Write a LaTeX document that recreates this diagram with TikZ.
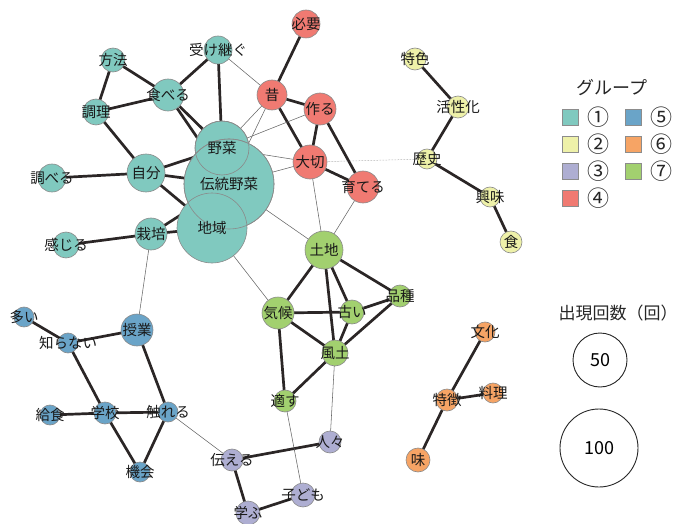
\documentclass[tikz,border=0pt]{standalone}
\usepackage{fontspec}
\setmainfont{Noto Sans CJK JP}
\usetikzlibrary{backgrounds}
\definecolor{cTeal}{HTML}{80C9BF}
\definecolor{cYel}{HTML}{EEF1A9}
\definecolor{cLav}{HTML}{AEAED2}
\definecolor{cRed}{HTML}{F07A72}
\definecolor{cBlue}{HTML}{6AA4C8}
\definecolor{cOra}{HTML}{F6A465}
\definecolor{cGrn}{HTML}{A2D06F}
\definecolor{cEdge}{HTML}{2B2626}
\definecolor{cBord}{HTML}{8A8A8A}
\begin{document}
\begin{tikzpicture}[x=1pt,y=-1pt,
  vtx/.style={circle,inner sep=0pt,minimum size=#1,draw=cBord,line width=0.6pt},
  ring/.style={circle,inner sep=0pt,minimum size=#1,draw=cBord,line width=0.6pt},
  lbl/.style={inner sep=0pt,font=\fontsize{14.5}{15}\selectfont,text=black!90},
  thk/.style={draw=cEdge,line width=2.7pt},
  thn/.style={draw=black!60,line width=0.55pt},
  dotl/.style={draw=black!45,line width=0.5pt,densely dotted},
  sq/.style={draw=black!45,line width=0.6pt,minimum size=16pt,inner sep=0pt},
  legtxt/.style={inner sep=0pt,font=\fontsize{22}{23}\selectfont,text=black!85},
  sizec/.style={circle,draw=black!85,line width=0.9pt,inner sep=0pt,minimum size=#1,font=\fontsize{18}{19}\selectfont}
]
\useasboundingbox (0,0) rectangle (696,524);

% ---- nodes ----
\node[vtx=28pt,fill=cRed]  (hitsuyo)  at (306,24) {};
\node[vtx=28pt,fill=cTeal] (uketsugu) at (218,50) {};
\node[vtx=24pt,fill=cTeal] (hoho)     at (113,60) {};
\node[vtx=32pt,fill=cTeal] (taberu)   at (168,95) {};
\node[vtx=26pt,fill=cTeal] (chori)    at (96,112) {};
\node[vtx=30pt,fill=cRed]  (mukashi)  at (272,95) {};
\node[vtx=32pt,fill=cRed]  (tsukuru)  at (320,109) {};
\node[vtx=38pt,fill=cTeal] (jibun)    at (146,173) {};
\node[vtx=28pt,fill=cTeal] (shiraberu) at (52,178) {};
\node[vtx=34pt,fill=cRed]  (taisetsu) at (310,162) {};
\node[vtx=32pt,fill=cRed]  (sodateru) at (363,187) {};
\node[vtx=32pt,fill=cTeal] (saibai)   at (151,234) {};
\node[vtx=26pt,fill=cTeal] (kanjiru)  at (66,245) {};
\node[vtx=38pt,fill=cGrn]  (tochi)    at (324,250) {};
\node[vtx=22pt,fill=cGrn]  (hinshu)   at (400,296) {};
\node[vtx=24pt,fill=cGrn]  (furui)    at (352,312) {};
\node[vtx=32pt,fill=cGrn]  (kiko)     at (278,313) {};
\node[vtx=26pt,fill=cGrn]  (fudo)     at (335,353) {};
\node[vtx=22pt,fill=cGrn]  (tekisu)   at (285,401) {};
\node[vtx=22pt,fill=cYel]  (tokushoku) at (415,59) {};
\node[vtx=22pt,fill=cYel]  (kasseika) at (458,107) {};
\node[vtx=20pt,fill=cYel]  (rekishi)  at (427,159) {};
\node[vtx=20pt,fill=cYel]  (kyomi)    at (490,197) {};
\node[vtx=22pt,fill=cYel]  (shoku)    at (511,242) {};
\node[vtx=20pt,fill=cBlue] (oi)       at (24,317) {};
\node[vtx=20pt,fill=cBlue] (shiranai) at (68,343) {};
\node[vtx=32pt,fill=cBlue] (jugyo)    at (137,330) {};
\node[vtx=20pt,fill=cBlue] (kyushoku) at (50,415) {};
\node[vtx=22pt,fill=cBlue] (gakko)    at (105,413) {};
\node[vtx=20pt,fill=cBlue] (fureru)   at (168,412) {};
\node[vtx=20pt,fill=cBlue] (kikai)    at (140,472) {};
\node[vtx=22pt,fill=cLav]  (tsutaeru) at (232,460) {};
\node[vtx=22pt,fill=cLav]  (hitobito) at (330,442) {};
\node[vtx=24pt,fill=cLav]  (kodomo)   at (303,495) {};
\node[vtx=24pt,fill=cLav]  (manabu)   at (248,513) {};
\node[vtx=20pt,fill=cOra]  (bunka)    at (485,332) {};
\node[vtx=20pt,fill=cOra]  (ryori)    at (493,393) {};
\node[vtx=22pt,fill=cOra]  (tokucho)  at (447,400) {};
\node[vtx=24pt,fill=cOra]  (aji)      at (418,460) {};
% big overlapping circles
\node[vtx=54pt,fill=cTeal] (yasai)  at (222,148) {};
\node[vtx=90pt,fill=cTeal] (dento)  at (229,184) {};
\node[vtx=70pt,fill=cTeal] (chiiki) at (212,228) {};
\node[ring=54pt] (yasaiR)  at (yasai) {};
\node[ring=90pt] (dentoR)  at (dento) {};

% ---- edges ----
\begin{scope}[on background layer]
\foreach \a/\b in {hitsuyo/mukashi, uketsugu/taberu, uketsugu/yasai, hoho/taberu, hoho/chori,
  chori/taberu, chori/jibun, taberu/yasai, taberu/dento, jibun/yasai, jibun/dento, jibun/chiiki,
  shiraberu/jibun, saibai/dento, saibai/chiiki, kanjiru/saibai,
  mukashi/tsukuru, mukashi/taisetsu, tsukuru/taisetsu, tsukuru/sodateru, taisetsu/sodateru,
  tokushoku/kasseika, kasseika/rekishi, rekishi/kyomi, kyomi/shoku,
  tochi/kiko, tochi/hinshu, tochi/furui, tochi/fudo, kiko/furui, kiko/fudo, kiko/tekisu,
  furui/hinshu, furui/fudo, hinshu/fudo, fudo/tekisu,
  oi/shiranai, shiranai/jugyo, shiranai/gakko, jugyo/fureru, kyushoku/gakko, gakko/fureru,
  gakko/kikai, fureru/kikai, tsutaeru/hitobito, tsutaeru/manabu, manabu/kodomo,
  bunka/tokucho, ryori/tokucho, tokucho/aji}
  \draw[thk] (\a.center) -- (\b.center);
\foreach \a/\b in {uketsugu/mukashi, mukashi/yasai, mukashi/dento, tsukuru/yasai,
  taisetsu/yasai, taisetsu/dento, taisetsu/tochi, sodateru/tochi, dento/tochi, chiiki/kiko,
  saibai/jugyo, fureru/tsutaeru, tekisu/kodomo, fudo/hitobito}
  \draw[thn] (\a.center) -- (\b.center);
\draw[dotl] (taisetsu.center) -- (rekishi.center);
\end{scope}

% ---- labels ----
\foreach \n/\t in {hitsuyo/必要, uketsugu/受け継ぐ, hoho/方法, taberu/食べる, chori/調理,
  mukashi/昔, tsukuru/作る, yasai/野菜, dento/伝統野菜, chiiki/地域, jibun/自分,
  shiraberu/調べる, taisetsu/大切, sodateru/育てる, saibai/栽培, kanjiru/感じる,
  tochi/土地, hinshu/品種, furui/古い, kiko/気候, fudo/風土, tekisu/適す,
  tokushoku/特色, kasseika/活性化, rekishi/歴史, kyomi/興味, shoku/食,
  oi/多い, shiranai/知らない, jugyo/授業, kyushoku/給食, gakko/学校, fureru/触れる,
  kikai/機会, tsutaeru/伝える, hitobito/人々, kodomo/子ども, manabu/学ぶ,
  bunka/文化, ryori/料理, tokucho/特徴, aji/味}
  \node[lbl] (t-\n) at (\n) {\t};

% ---- legend ----
\node[inner sep=0pt,font=\fontsize{18}{20}\selectfont,text=black!85] (legtitle) at (612,88) {グループ};
\node[sq,fill=cTeal] (sq1) at (570,117) {};
\node[sq,fill=cYel]  (sq2) at (570,144) {};
\node[sq,fill=cLav]  (sq3) at (570,171) {};
\node[sq,fill=cRed]  (sq4) at (570,198) {};
\node[sq,fill=cBlue] (sq5) at (633,117) {};
\node[sq,fill=cOra]  (sq6) at (633,144) {};
\node[sq,fill=cGrn]  (sq7) at (633,171) {};
\node[legtxt] (n1) at (598,117) {①};
\node[legtxt] (n2) at (598,144) {②};
\node[legtxt] (n3) at (598,171) {③};
\node[legtxt] (n4) at (598,198) {④};
\node[legtxt] (n5) at (661,117) {⑤};
\node[legtxt] (n6) at (661,144) {⑥};
\node[legtxt] (n7) at (661,171) {⑦};

\node[inner sep=0pt,font=\fontsize{17}{19}\selectfont,text=black!85] (sizetitle) at (618,313) {出現回数（回）};
\node[sizec=54pt] (s50) at (600,360) {50};
\node[sizec=78pt] (s100) at (599,448) {100};
\end{tikzpicture}
\end{document}
